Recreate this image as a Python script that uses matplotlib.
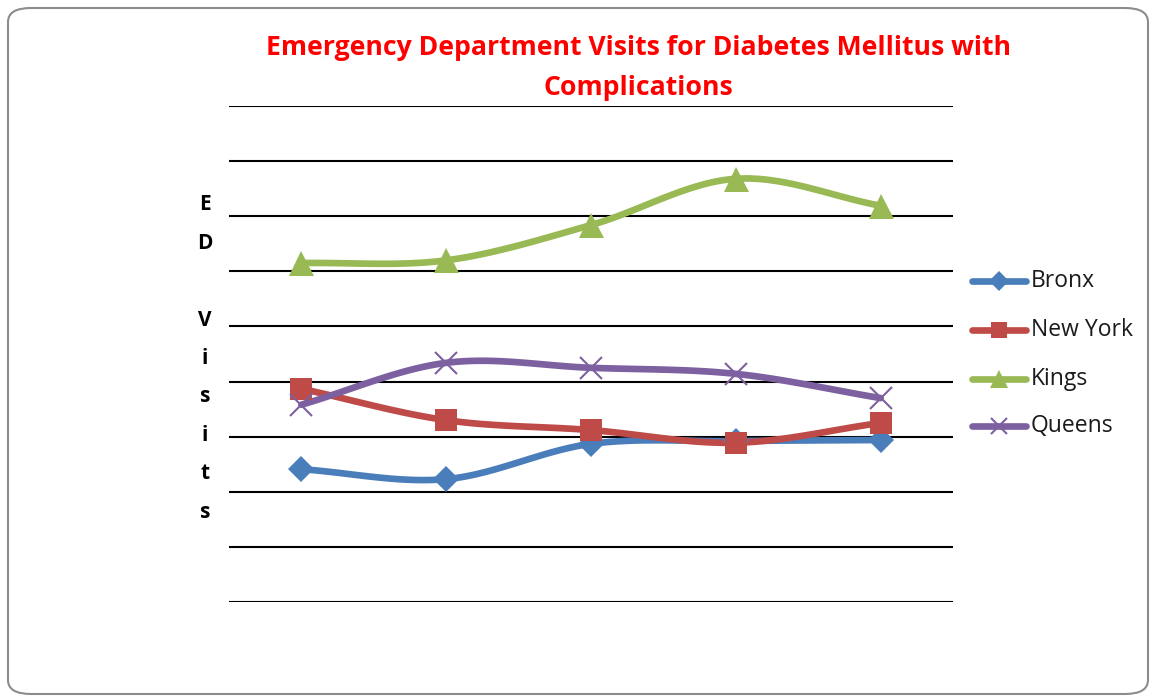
import numpy as np
import matplotlib.pyplot as plt
from matplotlib.patches import FancyBboxPatch

# Category positions (no labels shown in the original) and series values
categories = ["1", "2", "3", "4", "5"]
bronx = [241, 223, 287, 292, 294]
new_york = [387, 330, 312, 289, 325]
kings = [615, 620, 684, 768, 719]
queens = [358, 434, 425, 414, 370]

series = [
    ("Bronx", bronx, "#4a7ebb", "D", 13),
    ("New York", new_york, "#be4b48", "s", 16),
    ("Kings", kings, "#98b954", "^", 18),
    ("Queens", queens, "#7d60a0", "x", 16),
]


def smooth(x, y, n=30):
    # cardinal spline through the points, similar to Excel's smoothed line
    x = np.asarray(x, float)
    y = np.asarray(y, float)
    px = np.concatenate([[2 * x[0] - x[1]], x, [2 * x[-1] - x[-2]]])
    py = np.concatenate([[2 * y[0] - y[1]], y, [2 * y[-1] - y[-2]]])
    xs, ys = [], []
    t = np.linspace(0, 1, n)
    for i in range(1, len(px) - 2):
        p0, p1, p2, p3 = (np.array([px[j], py[j]]) for j in range(i - 1, i + 3))
        m1 = (p2 - p0) / 2
        m2 = (p3 - p1) / 2
        h00 = 2 * t**3 - 3 * t**2 + 1
        h10 = t**3 - 2 * t**2 + t
        h01 = -2 * t**3 + 3 * t**2
        h11 = t**3 - t**2
        pts = (np.outer(h00, p1) + np.outer(h10, m1)
               + np.outer(h01, p2) + np.outer(h11, m2))
        xs.extend(pts[:, 0])
        ys.extend(pts[:, 1])
    return np.array(xs), np.array(ys)


fig = plt.figure(figsize=(11.53, 6.98), dpi=100)
ax = fig.add_axes([0.1986, 0.1375, 0.628, 0.7106])

x = np.arange(len(categories))
for name, vals, color, marker, ms in series:
    sx, sy = smooth(x, vals)
    ax.plot(sx, sy, color=color, lw=4.8, solid_capstyle="round", zorder=3)
    mew = 1.5 if marker == "x" else 0
    ax.plot(x, vals, linestyle="none", marker=marker, markersize=ms,
            color=color, markeredgewidth=mew, zorder=4)

ax.set_xlim(-0.5, 4.5)
ax.set_ylim(0, 900)
ax.set_yticks(np.arange(0, 901, 100))
ax.grid(axis="y", color="black", lw=1.5)
ax.set_axisbelow(True)
ax.tick_params(left=False, bottom=False, labelleft=False, labelbottom=False)
for s in ax.spines.values():
    s.set_visible(False)

# legend drawn by hand to match the original spacing
legend_y = [281, 330, 379, 426]
for (name, vals, color, marker, ms), yp in zip(series, legend_y):
    yf = 1 - yp / 698
    fig.add_artist(plt.Line2D([972 / 1153, 1026 / 1153], [yf, yf], color=color,
                              lw=4.8, solid_capstyle="round",
                              transform=fig.transFigure))
    fig.add_artist(plt.Line2D([999 / 1153], [yf], marker=marker,
                              markersize=ms * 0.75, color=color,
                              markeredgewidth=1.5 if marker == "x" else 0,
                              transform=fig.transFigure))
    fig.text(1031 / 1153, yf, name, fontsize=16.5, family="Open Sans",
             va="center", ha="left", color="#1a1a1a")

fig.text(638 / 1153, 1 - 68 / 698,
         "Emergency Department Visits for Diabetes Mellitus with\nComplications",
         ha="center", va="center", color="red", fontsize=19.2,
         fontweight="bold", family="Open Sans", linespacing=1.72)

ylabel = ["E", "D", "", "V", "i", "s", "i", "t", "s"]
for i, ch in enumerate(ylabel):
    fig.text(205 / 1153, 1 - (205 + i * 38.4) / 698, ch, ha="center",
             va="center", fontsize=15, fontweight="bold", family="Open Sans")

frame = FancyBboxPatch((8 / 1153, 4 / 698), 1140 / 1153, 686 / 698,
                       boxstyle="round,pad=0,rounding_size=0.02",
                       transform=fig.transFigure, facecolor="none",
                       edgecolor="#8c8c8c", lw=1.5)
fig.add_artist(frame)

fig.savefig("out.png", dpi=100)
